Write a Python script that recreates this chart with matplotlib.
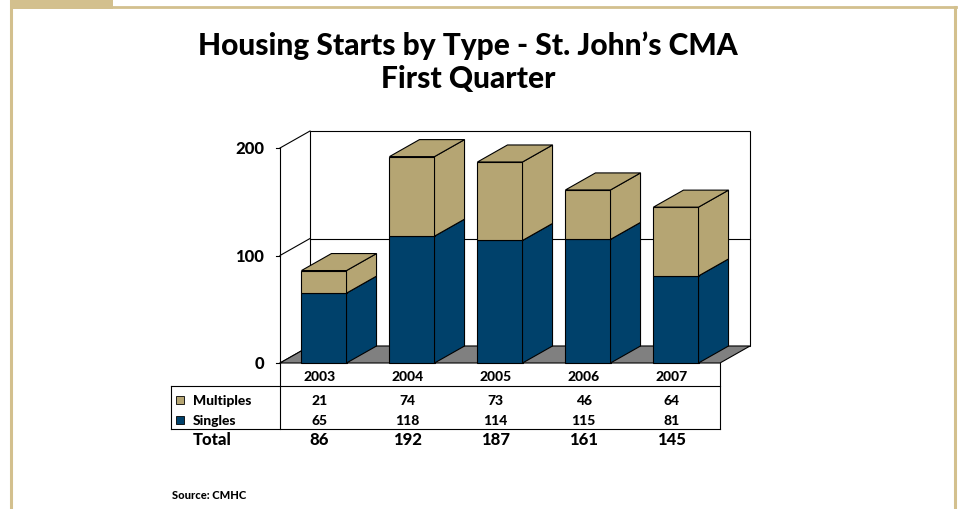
import matplotlib
matplotlib.use("Agg")
import matplotlib.pyplot as plt
from matplotlib.patches import Rectangle, Polygon
from matplotlib import transforms as mtrans

years = ["2003", "2004", "2005", "2006", "2007"]
singles = [65, 118, 114, 115, 81]
multiples = [21, 74, 73, 46, 64]
totals = [86, 192, 187, 161, 145]
yticks = [0, 100, 200]

NAVY = "#00416B"
TAN = "#B5A573"
FRAME = "#D3C08E"
GREY = "#808080"

plt.rcParams["font.family"] = ["Lato", "DejaVu Sans"]
BW = 900  # heavy weight, closer to the original Gill Sans bold

W, H = 959, 510
fig = plt.figure(figsize=(W / 100, H / 100), dpi=100)

# background axes in pixel units for frame, titles and table
bg = fig.add_axes([0, 0, 1, 1])
bg.set_xlim(0, W)
bg.set_ylim(H, 0)
bg.axis("off")

bg.add_patch(Rectangle((10, 0), 103, 10, color=FRAME, lw=0))
bg.plot([113, 956], [8, 8], color=FRAME, lw=2)
bg.plot([11, 11], [0, H], color=FRAME, lw=2.2)
bg.plot([954.5, 954.5], [8, H], color=FRAME, lw=2.2)

bg.text(468, 46, "Housing Starts by Type - St. John\u2019s CMA", ha="center",
        va="center", fontsize=21.5, fontweight=BW)
bg.text(468, 79, "First Quarter", ha="center", va="center",
        fontsize=21.5, fontweight=BW)

# plot area (front plane)
x0, y0, pw, ph = 280, 364, 440, 215
ax = fig.add_axes([x0 / W, (H - y0) / H, pw / W, ph / H])
ax.set_xlim(-0.5, 4.5)
ax.set_ylim(0, 200)
ax.axis("off")

n = len(years)
DX = 30 / (pw / n)        # depth offset in data units
DY = 17 / (ph / 200)
w = 0.256
lw = 0.8

# back wall + gridline
ax.add_patch(Rectangle((-0.5 + DX, DY), n, 200, fc="white", ec="black",
                       lw=lw, clip_on=False, zorder=1))
for v in yticks[1:-1]:
    ax.plot([-0.5 + DX, 4.5 + DX], [v + DY, v + DY], color="black", lw=lw,
            clip_on=False, zorder=1)
# side diagonals, axis line, ticks, labels
for v in yticks:
    ax.plot([-0.5, -0.5 + DX], [v, v + DY], color="black", lw=lw,
            clip_on=False, zorder=1)
    ax.plot([-0.5 - 4 / 88, -0.5], [v, v], color="black", lw=lw,
            clip_on=False, zorder=1)
    ax.text(-0.5 - 16 / 88, v, str(v), ha="right", va="center",
            fontsize=12, fontweight=BW)
ax.plot([-0.5, -0.5], [0, 200], color="black", lw=lw, clip_on=False, zorder=1)

# floor
ax.add_patch(Polygon([(-0.5, 0), (4.5, 0), (4.5 + DX, DY), (-0.5 + DX, DY)],
                     closed=True, fc=GREY, ec="black", lw=lw, clip_on=False,
                     zorder=2))

# stacked 3d bars
for i in range(n):
    segs = [(0, singles[i], NAVY), (singles[i], singles[i] + multiples[i], TAN)]
    for b, t, c in segs:
        ax.add_patch(Rectangle((i - w, b), 2 * w, t - b, fc=c, ec="black",
                               lw=lw, clip_on=False, zorder=3))
        ax.add_patch(Polygon([(i + w, b), (i + w + DX, b + DY),
                              (i + w + DX, t + DY), (i + w, t)], closed=True,
                             fc=c, ec="black", lw=lw, clip_on=False, zorder=3))
    t = totals[i]
    ax.add_patch(Polygon([(i - w, t), (i + w, t), (i + w + DX, t + DY),
                          (i - w + DX, t + DY)], closed=True, fc=TAN,
                         ec="black", lw=lw, clip_on=False, zorder=3))

# data table
tl, tr_ = 171, x0 + pw
bg.plot([x0, x0], [y0, 430], color="black", lw=lw)
bg.plot([tr_, tr_], [y0, 430], color="black", lw=lw)
bg.plot([tl, tr_], [387, 387], color="black", lw=lw)
bg.plot([tl, tr_], [430, 430], color="black", lw=lw)
bg.plot([tl, tl], [387, 430], color="black", lw=lw)

tt = mtrans.blended_transform_factory(ax.transData, bg.transData)
for i in range(n):
    xi = i - 0.05
    bg.text(xi, 377, years[i], transform=tt, ha="center", va="center",
            fontsize=10, fontweight=BW)
    bg.text(xi, 401, str(multiples[i]), transform=tt, ha="center",
            va="center", fontsize=10, fontweight=BW)
    bg.text(xi, 421, str(singles[i]), transform=tt, ha="center",
            va="center", fontsize=10, fontweight=BW)
    bg.text(xi, 440, str(totals[i]), transform=tt, ha="center",
            va="center", fontsize=12, fontweight=BW)

for yy, lab, c in [(401, "Multiples", TAN), (421, "Singles", NAVY)]:
    bg.add_patch(Rectangle((176, yy - 4), 8, 8, fc=c, ec="black", lw=0.6))
    bg.text(193, yy, lab, ha="left", va="center", fontsize=10,
            fontweight=BW)
bg.text(193, 440, "Total", ha="left", va="center", fontsize=12,
        fontweight=BW)

bg.text(172, 496, "Source: CMHC", ha="left", va="center", fontsize=8,
        fontweight=BW)

fig.savefig("out.png", dpi=100)
